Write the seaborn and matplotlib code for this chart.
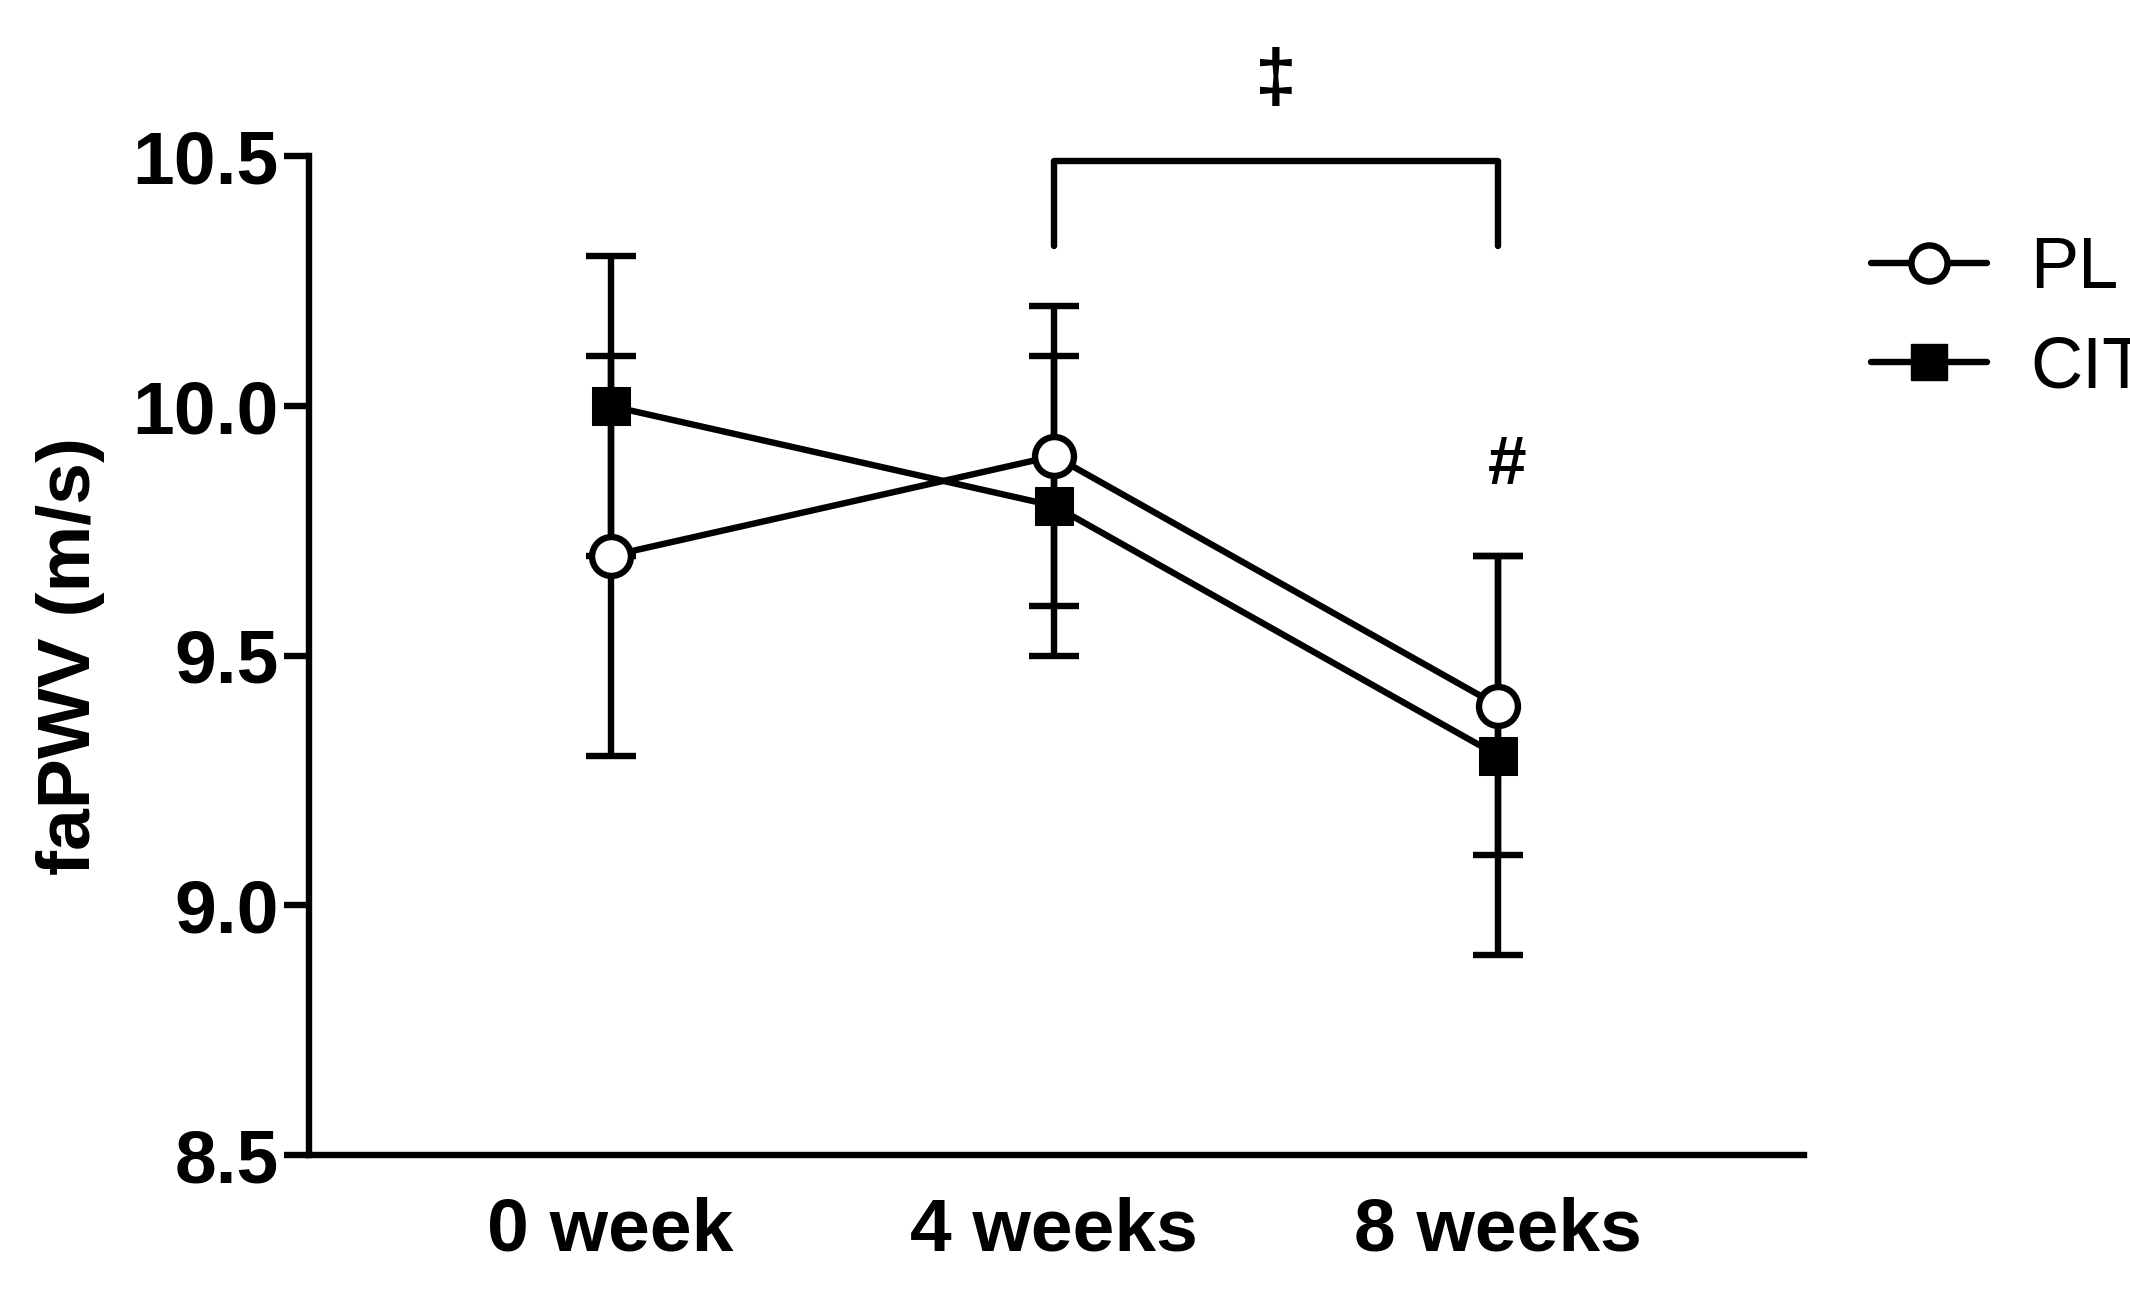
import matplotlib
matplotlib.use("Agg")
import matplotlib.pyplot as plt
import seaborn as sns
import pandas as pd

categories = ["0 week", "4 weeks", "8 weeks"]
pl_mean = [9.7, 9.9, 9.4]
pl_err = [0.4, 0.3, 0.3]
cit_mean = [10.0, 9.8, 9.3]
cit_err = [0.3, 0.3, 0.4]

sns.set_style("ticks")
plt.rcParams['font.family'] = ['Liberation Sans', 'DejaVu Sans']
plt.rcParams['font.weight'] = 'bold'
plt.rcParams['text.color'] = 'black'
plt.rcParams['axes.labelcolor'] = 'black'
plt.rcParams['xtick.color'] = 'black'
plt.rcParams['ytick.color'] = 'black'
plt.rcParams['axes.edgecolor'] = 'black'

fig = plt.figure(figsize=(21.3, 13.14), dpi=100)
ax = fig.add_axes([0.145, 0.121, 0.702, 0.76])
x = list(range(len(categories)))
lw = 4.6
df = pd.DataFrame({"x": x * 2, "y": pl_mean + cit_mean,
                   "g": ["PL"] * 3 + ["CIT"] * 3})
for m, e in [(pl_mean, pl_err), (cit_mean, cit_err)]:
    ax.errorbar(x, m, yerr=e, fmt='none', ecolor='black', elinewidth=lw,
                capsize=18, capthick=lw, zorder=2)
sns.lineplot(data=df, x="x", y="y", hue="g", style="g",
             markers={"PL": 'o', "CIT": 's'}, dashes=False,
             palette={"PL": "black", "CIT": "black"}, linewidth=lw,
             markersize=28, ax=ax, legend=False, zorder=3)
for ln in ax.get_lines():
    if ln.get_marker() == 'o':
        ln.set_markerfacecolor('white'); ln.set_markeredgecolor('black'); ln.set_markeredgewidth(lw)
    elif ln.get_marker() == 's':
        ln.set_markerfacecolor('black'); ln.set_markeredgecolor('black')

ax.set_xlim(-0.68, 2.69)
ax.set_ylim(8.5, 10.5)
ax.set_yticks([8.5, 9.0, 9.5, 10.0, 10.5])
ax.set_yticklabels(["8.5", "9.0", "9.5", "10.0", "10.5"])
ax.set_xticks(x)
ax.set_xticklabels(categories)
ax.tick_params(axis='y', labelsize=54, width=lw, length=18)
ax.tick_params(axis='x', labelsize=54, length=0, pad=30)
for lab in ax.get_xticklabels() + ax.get_yticklabels():
    lab.set_fontweight('bold')
for s in ['left', 'bottom']:
    ax.spines[s].set_linewidth(lw)
sns.despine(ax=ax)
ax.set_xlabel("")
ax.set_ylabel("faPWV (m/s)", fontsize=54, fontweight='bold', labelpad=20)

ax.plot([1, 1, 2, 2], [10.32, 10.49, 10.49, 10.32], color='black', lw=lw, clip_on=False)
ax.text(1.5, 10.65, "‡", ha='center', va='center', fontsize=54, fontweight='bold', clip_on=False)
ax.text(2.02, 9.88, "#", ha='center', va='center', fontsize=50, fontweight='bold')

from matplotlib.lines import Line2D
h = [Line2D([], [], color='black', lw=lw, marker='o', markersize=26, markerfacecolor='white', markeredgewidth=lw),
     Line2D([], [], color='black', lw=lw, marker='s', markersize=26, markerfacecolor='black')]
fig.legend(h, ["PL", "CIT"], loc='upper left', bbox_to_anchor=(0.848, 0.87), frameon=False,
           handlelength=1.6, labelspacing=0.45, handletextpad=0.6,
           prop={'size': 52, 'weight': 'normal'})
fig.savefig("out.png", dpi=100)
